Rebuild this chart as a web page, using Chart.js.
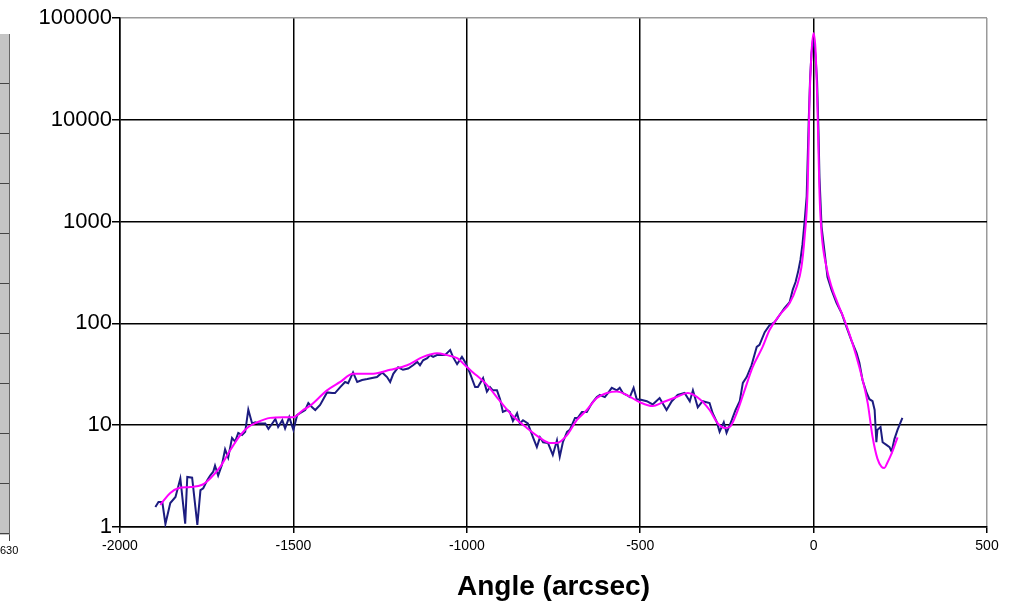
<!DOCTYPE html>
<html>
<head>
<meta charset="utf-8">
<title>Angular scan</title>
<script src="https://cdn.jsdelivr.net/npm/chart.js@4.4.1/dist/chart.umd.min.js"></script>
<style>
  html, body { margin: 0; padding: 0; background: #fff; }
  #wrap { position: relative; width: 1013px; height: 604px; overflow: hidden; }
  #plot { position: absolute; left: 0; top: 0; }
  #side { position: absolute; left: 0; top: 34px; width: 10px; height: 501px;
          background: #c4c4c4; border-right: 1px solid #666; box-sizing: border-box; }
  #side div { height: 50px; border-bottom: 1px solid #444; box-sizing: border-box; }
  #sideTick { position: absolute; left: 9px; top: 535px; width: 1px; height: 6px; background: #444; }
  #sideLabel { position: absolute; left: 0; top: 544px; font: 11px "Liberation Sans", Arial, sans-serif; color: #000; }
</style>
</head>
<body>
<div id="wrap">
  <canvas id="plot" width="1013" height="604"></canvas>
  <div id="side"><div></div><div></div><div></div><div></div><div></div><div></div><div></div><div></div><div></div><div></div></div>
  <div id="sideTick"></div>
  <div id="sideLabel">630</div>
</div>
<script>
// Measured scan: angle (arcsec) and intensity
const measuredAngle = [
  -1898, -1889, -1878, -1869, -1855, -1840, -1826, -1812, -1806, -1792,
  -1777, -1768, -1760, -1748, -1740, -1731, -1726, -1717, -1706, -1697,
  -1688, -1677, -1668, -1659, -1648, -1639, -1630, -1619, -1610, -1601,
  -1590, -1581, -1572, -1561, -1552, -1544, -1532, -1524, -1512, -1500,
  -1489, -1475, -1466, -1457, -1446, -1437, -1423, -1403, -1388, -1380,
  -1365, -1351, -1342, -1328, -1316, -1302, -1287, -1273, -1259, -1244,
  -1230, -1221, -1212, -1198, -1184, -1169, -1155, -1143, -1135, -1126,
  -1114, -1106, -1097, -1086, -1071, -1063, -1048, -1040, -1028, -1014,
  -1005, -991, -976, -968, -953, -942, -933, -925, -913, -904,
  -896, -884, -876, -867, -855, -847, -838, -824, -809, -798,
  -789, -780, -766, -752, -740, -732, -723, -711, -703, -688,
  -680, -668, -654, -639, -625, -616, -602, -593, -582, -567,
  -559, -550, -539, -530, -519, -510, -498, -481, -464, -444,
  -424, -409, -392, -372, -357, -348, -334, -320, -300, -291,
  -279, -271, -259, -251, -236, -225, -213, -204, -193, -179,
  -164, -156, -141, -127, -112, -98, -84, -69, -60, -52,
  -44, -38, -32, -26, -20, -14, -10, -6, -2, 2,
  6, 10, 14, 17, 23, 32, 40, 52, 66, 81,
  95, 109, 124, 132, 141, 153, 161, 170, 176, 181,
  184, 193, 199, 210, 219, 225, 233, 242, 256
];
const measuredIntensity = [
  1.57, 1.76, 1.76, 1.07, 1.72, 1.97, 3.0, 1.08, 3.1, 3.05,
  1.05, 2.3, 2.4, 2.9, 3.2, 3.5, 4.0, 3.2, 4.1, 5.8,
  4.8, 7.5, 6.9, 8.4, 8.0, 8.6, 14.2, 10.4, 10.7, 10.4,
  10.4, 10.4, 9.2, 10.4, 11.5, 9.6, 11.2, 9.3, 12.0, 9.0,
  12.6, 13.5, 14.1, 16.5, 15, 14.1, 15.8, 21, 20.7, 20.7,
  23.7, 26.6, 25.9, 33, 26.6, 27.8, 28.4, 29.1, 29.7, 33,
  29.7, 26.6, 32, 37, 35, 36, 38.8, 41.8, 38.8, 43.4,
  45.5, 48.8, 46.9, 48.8, 48.8, 48.8, 54.8, 46.9, 39.8, 46.9,
  41.8, 32.5, 23.7, 23.7, 29, 21.4, 23.7, 22, 22, 18.0,
  13.5, 14.1, 13.5, 11.0, 13.1, 10.4, 11.2, 10.4, 7.6, 6.1,
  7.6, 6.8, 6.7, 5.1, 7.1, 4.9, 6.8, 8.6, 9.0, 11.8,
  11.8, 13.5, 13.5, 16.5, 18.9, 19.8, 18.9, 20.7, 23.3, 22.0,
  23.3, 20.7, 19.8, 18.9, 23.3, 18.0, 17.8, 17.2, 16, 18.5,
  14.1, 17.2, 19.8, 20.7, 17.2, 22, 15, 17.2, 16.5, 13.1,
  10.7, 8.6, 10.7, 8.4, 11.2, 14.1, 17.2, 26, 29.7, 38.8,
  58.7, 61.5, 82, 96, 103, 121, 141, 162, 215, 255,
  330, 420, 600, 1000, 1760, 10000, 26000, 45000, 60000, 55000,
  40000, 24000, 8000, 2700, 890, 490, 285, 212, 159, 126,
  92, 68, 51, 41, 27.8, 20.7, 18, 17.2, 14.1, 6.8,
  9, 9.6, 6.8, 6.4, 6.1, 5.5, 7.3, 9, 11.8
];

// Fitted model curve
const fitAngle = [
  -1884, -1855, -1832, -1797, -1763, -1740, -1711, -1682, -1653, -1630,
  -1604, -1567, -1529, -1500, -1472, -1452, -1403, -1365, -1328, -1270,
  -1221, -1172, -1126, -1086, -1057, -1028, -999, -982, -942, -904,
  -867, -827, -789, -760, -740, -711, -683, -654, -625, -596,
  -567, -539, -501, -464, -435, -395, -363, -328, -300, -276,
  -256, -242, -222, -199, -176, -147, -127, -98, -69, -49,
  -35, -26, -17, -12, -6, 0, 6, 12, 17, 23,
  37, 52, 69, 89, 112, 132, 156, 170, 184, 196,
  204, 213, 228, 242
];
const fitIntensity = [
  1.65, 2.16, 2.4, 2.47, 2.6, 3.0, 3.9, 5.7, 8.0, 9.6,
  10.7, 11.8, 12.0, 12.0, 14.1, 15.5, 22, 26.6, 32, 32,
  35, 38.8, 46.9, 50.9, 48.8, 45.5, 37, 33, 24.9, 17.2,
  12.3, 9.4, 7.5, 6.7, 6.7, 8.0, 11.2, 14.1, 18.5, 20.7,
  21.4, 19.8, 16.8, 15.4, 16.8, 18.9, 20.7, 18.0, 14.1, 10.4,
  9.4, 9.6, 13.1, 22, 37, 58.7, 86, 121, 159, 228,
  358, 700, 2170, 14400, 46000, 71000, 46000, 10000, 1900, 770,
  358, 228, 159, 108, 64, 37, 16.5, 7.7, 4.7, 3.9,
  3.8, 4.3, 5.6, 7.6
];

// Axis ticks
const angleTicks = [-2000, -1500, -1000, -500, 0, 500];
const intensityTicks = [1, 10, 100, 1000, 10000, 100000];

const toPoints = (xs, ys) => xs.map((x, i) => ({ x: x, y: ys[i] }));

const FONT = '"Liberation Sans", Arial, sans-serif';

new Chart(document.getElementById('plot'), {
  type: 'scatter',
  data: {
    datasets: [
      {
        label: 'Fit',
        data: toPoints(fitAngle, fitIntensity),
        showLine: true,
        borderColor: '#ff00ff',
        borderWidth: 2,
        pointRadius: 0,
        cubicInterpolationMode: 'monotone',
        order: 0
      },
      {
        label: 'Measured',
        data: toPoints(measuredAngle, measuredIntensity),
        showLine: true,
        borderColor: '#1c1c80',
        borderWidth: 2,
        pointRadius: 0,
        tension: 0,
        order: 1
      }
    ]
  },
  options: {
    responsive: false,
    animation: false,
    events: [],
    layout: { padding: { top: 18, right: 26, left: 0, bottom: 0 } },
    plugins: { legend: { display: false }, tooltip: { enabled: false } },
    scales: {
      x: {
        type: 'linear',
        min: -2000,
        max: 500,
        afterBuildTicks: s => { s.ticks = angleTicks.map(v => ({ value: v })); },
        afterFit: s => { s.height = 77; },
        ticks: {
          autoSkip: false,
          maxRotation: 0,
          padding: 5,
          color: '#000',
          font: { family: FONT, size: 14 },
          callback: v => String(v)
        },
        grid: {
          color: c => (c.tick && c.tick.value === 500) ? '#9a9a9a' : '#000',
          lineWidth: 1.5,
          tickLength: 6,
          tickColor: '#000'
        },
        border: { color: '#000', width: 1.5 },
        title: {
          display: true,
          text: 'Angle (arcsec)',
          color: '#000',
          font: { family: FONT, size: 28, weight: 'bold', lineHeight: 1.2 },
          padding: { top: 0, bottom: 0 }
        }
      },
      y: {
        type: 'logarithmic',
        min: 1,
        max: 100000,
        afterBuildTicks: s => { s.ticks = intensityTicks.map(v => ({ value: v })); },
        afterFit: s => { s.width = 120; },
        ticks: {
          autoSkip: false,
          padding: 0,
          color: '#000',
          font: { family: FONT, size: 22 },
          callback: v => String(v)
        },
        grid: {
          color: c => (c.tick && c.tick.value === 100000) ? '#9a9a9a' : '#000',
          lineWidth: 1.5,
          tickLength: 8,
          tickColor: '#000'
        },
        border: { color: '#000', width: 1.5 }
      }
    }
  }
});
</script>
</body>
</html>
